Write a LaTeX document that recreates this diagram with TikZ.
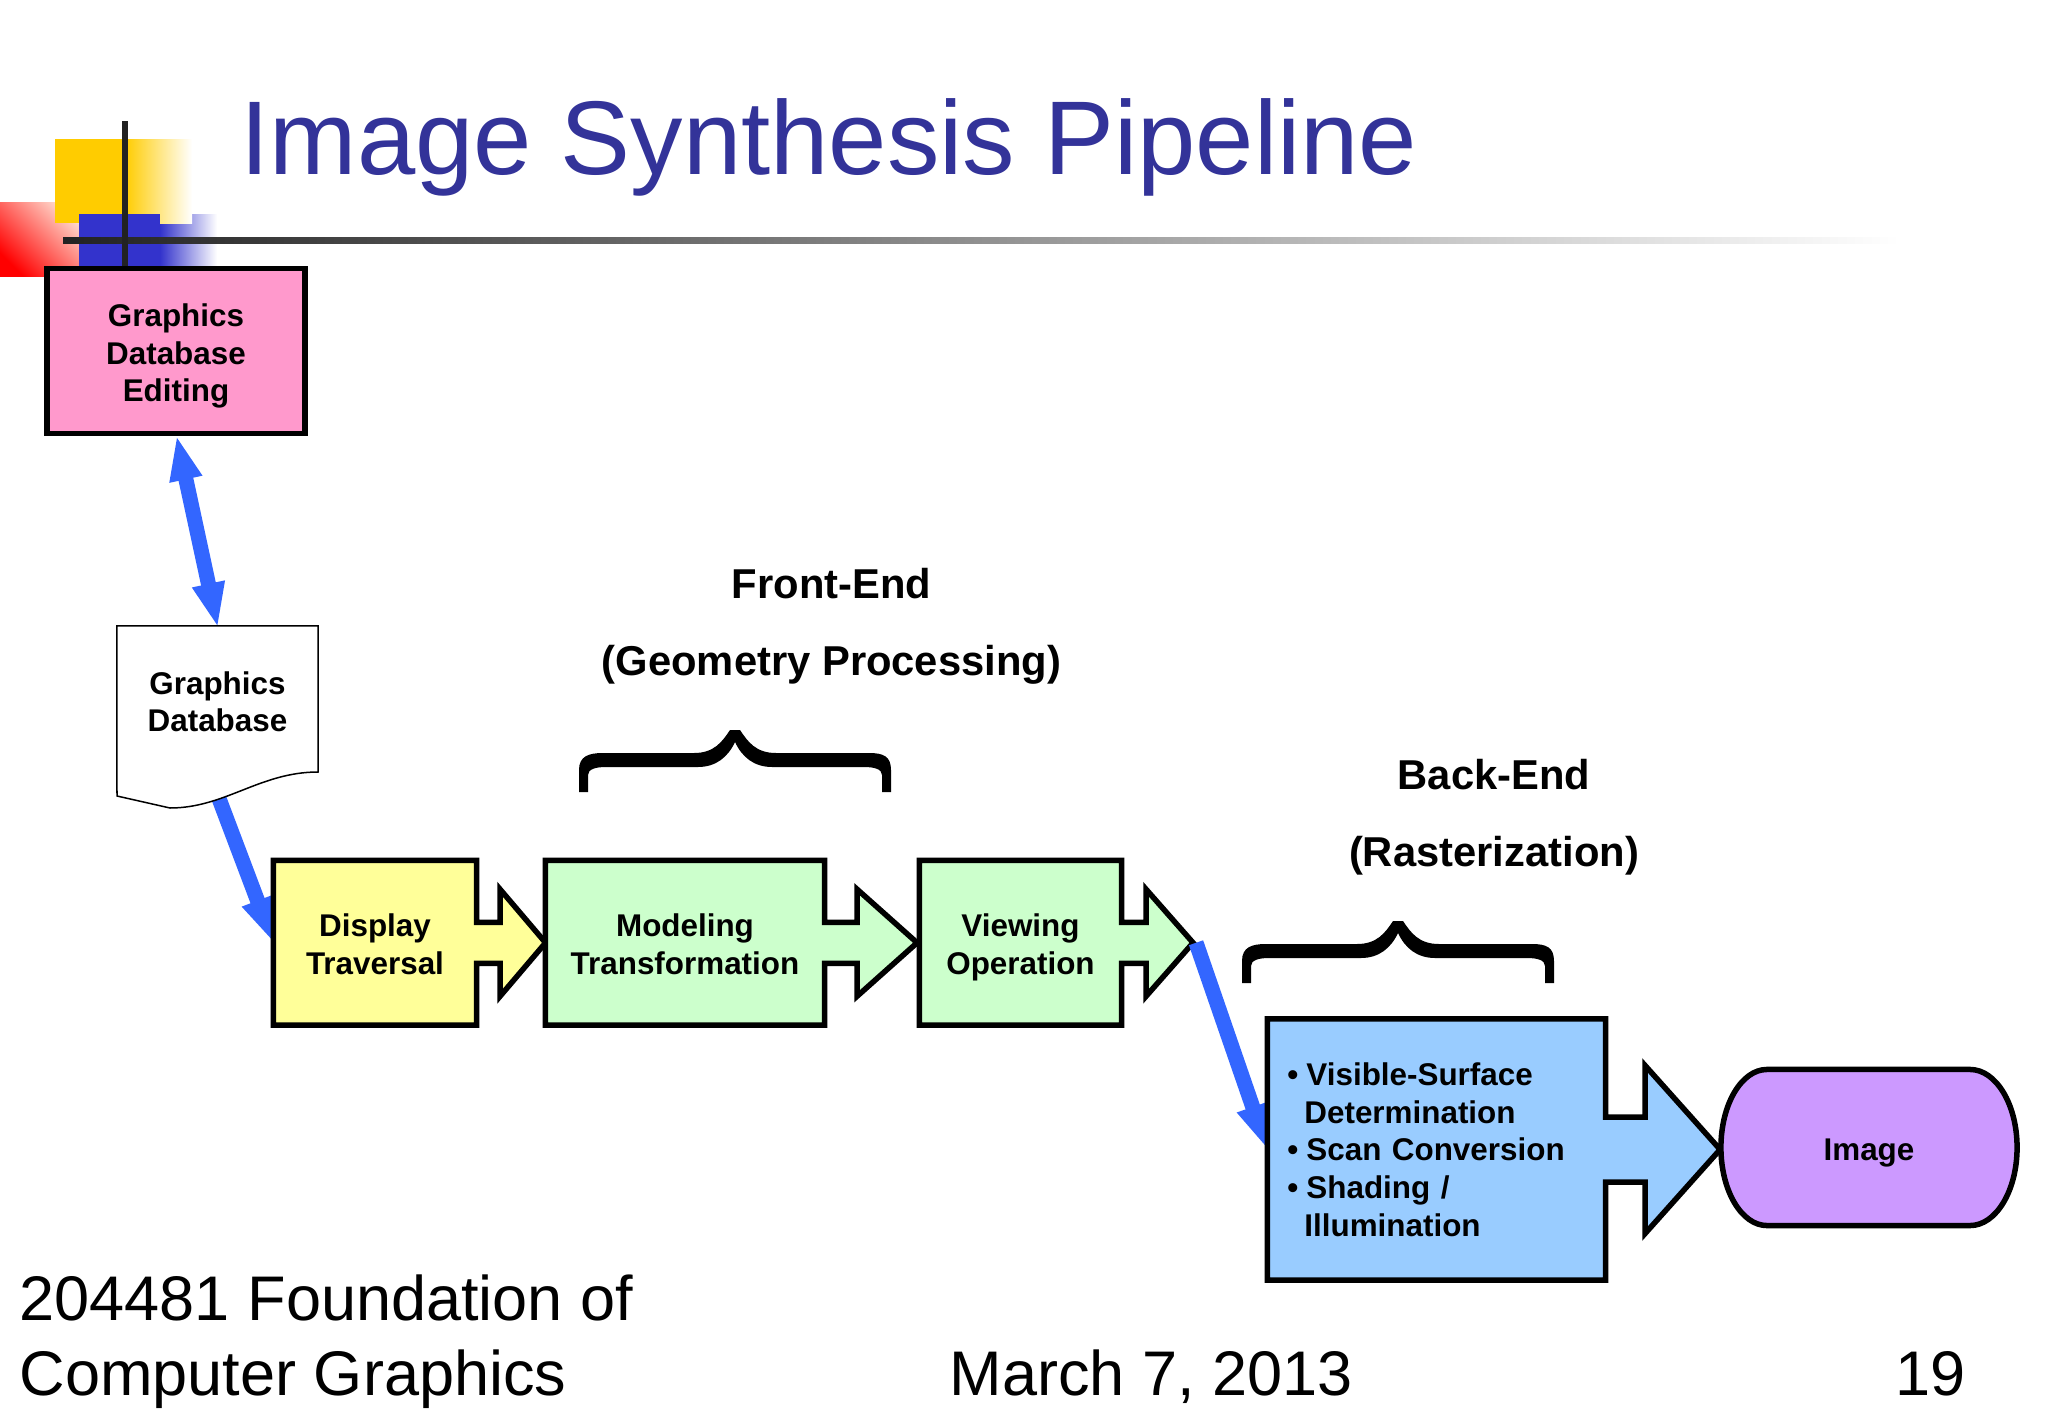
\documentclass[tikz,border=0pt]{standalone}
\usepackage{fontspec}
\setmainfont{Liberation Sans}
\usetikzlibrary{arrows.meta,calc,backgrounds}
\definecolor{titleblue}{HTML}{333399}
\definecolor{flowblue}{HTML}{3366FF}
\definecolor{logoyellow}{HTML}{FFCC00}
\definecolor{logoblue}{HTML}{3333CC}
\definecolor{logored}{HTML}{FF0000}
\definecolor{logosalmon}{HTML}{FFD8CC}
\definecolor{rulegray}{HTML}{222222}
\definecolor{editfill}{HTML}{FF99CC}
\definecolor{displayfill}{HTML}{FFFF99}
\definecolor{frontfill}{HTML}{CCFFCC}
\definecolor{backfill}{HTML}{99CCFF}
\definecolor{imagefill}{HTML}{CC99FF}
% box with a block arrow: node, fill, notch, tip, neck, head
\newcommand{\boxarrow}[6]{
  \draw[outline,fill=#2] (#1.north west) -- (#1.north east)
    -- ($(#1.east)+(0,-#5)$) -- ++(#3,0) -- ++(0,#5-#6)
    -- ($(#1.east)+(#3+#4,0)$) coordinate (#1tip)
    -- ($(#1.east)+(#3,#6)$) -- ++(0,#5-#6)
    -- ($(#1.east)+(0,#5)$) -- (#1.south east) -- (#1.south west) -- cycle;
}
\newcommand{\bulletitem}[1]{\makebox[0.19cm][l]{\textbullet}#1}
\newcommand{\firstline}{\rule{0pt}{0.26cm}}
\begin{document}
\begin{tikzpicture}[%
    x=0.01cm,
    y=-0.01cm,
    outline/.style={
      draw=black,
      line width=0.055cm,
      miter limit=10
    },
    stagebox/.style={
      rectangle,
      align=center,
      inner sep=0pt,
      outer sep=0pt,
      text depth=0pt,
      font=\fontsize{8.93}{10.78}\selectfont\bfseries,
      minimum width=2.03cm,
      minimum height=1.645cm
    },
    bracelabel/.style={
      align=center,
      inner sep=0pt,
      anchor=base,
      font=\fontsize{11.87}{11.87}\selectfont\bfseries
    },
    footer/.style={
      inner sep=0pt,
      anchor=base west,
      font=\fontsize{17.93}{21.3}\selectfont
    },
    flow/.style={
      draw=flowblue,
      line width=0.15cm
    },
    flowtip/.tip={Triangle[length=0.45cm,width=0.30cm]},
    curlybrace/.pic={
      \fill[black] (0,0) -- (0,-22) .. controls (0,-36) and (10,-39) .. (24,-39)
        -- (115,-39) .. controls (135,-39) and (143,-50) .. (151,-62)
        -- (161,-62) .. controls (169,-50) and (177,-39) .. (197,-39)
        -- (290,-39) .. controls (304,-39) and (312,-36) .. (312,-22)
        -- (312,0) -- (303,0) -- (303,-17) .. controls (303,-23) and (295,-25) .. (285,-25)
        -- (193,-25) .. controls (175,-25) and (163,-35) .. (156,-50)
        .. controls (149,-35) and (137,-25) .. (119,-25)
        -- (27,-25) .. controls (17,-25) and (9,-23) .. (9,-17) -- (9,0) -- cycle;
    }
  ]
    \useasboundingbox (0,0) rectangle (2048,1418);

    \node[inner sep=0pt,anchor=base west,text=titleblue,font=\fontsize{29.8}{32}\selectfont] (title) at (240,174) {Image Synthesis Pipeline};

    \node[stagebox,outline,fill=editfill,minimum width=2.58cm,minimum height=1.645cm] (edit) at (176,351) {\firstline Graphics\\Database\\Editing};
    \node[stagebox,minimum width=2.01cm,minimum height=1.48cm] (database) at (217.5,700) {\firstline Graphics\\Database};
    \coordinate (databaseout) at (212,780);

    \node[stagebox] (display) at (375,942.75) {\firstline Display\\Traversal};
    \node[stagebox,minimum width=2.79cm] (modeling) at (685,942.75) {\firstline Modeling\\Transformation};
    \node[stagebox,minimum width=2.02cm] (viewing) at (1020.5,942.75) {\firstline Viewing\\Operation};
    \node[stagebox,align=left,text depth=,minimum width=3.38cm,minimum height=2.61cm,text width=2.98cm,inner xsep=0.2cm,font=\fontsize{8.93}{10.72}\selectfont\bfseries] (backend) at (1436.5,1149.5) {\bulletitem{Visible-Surface}\\\hspace*{0.17cm}Determination\\\bulletitem{Scan Conversion}\\\bulletitem{Shading /}\\\hspace*{0.17cm}Illumination};
    \node[stagebox,minimum width=2.96cm,minimum height=1.56cm,text height=0.25cm] (image) at (1869,1147.5) {Image};

    \node[bracelabel] (frontname) at (831.5,598) {Front-End};
    \node[bracelabel] (frontsub) at (831.5,675) {(Geometry Processing)};
    \node[bracelabel] (backname) at (1494,789) {Back-End};
    \node[bracelabel] (backsub) at (1494,866) {(Rasterization)};

    \pic at (579,792) {curlybrace};
    \pic at (1242,983) {curlybrace};

    \node[footer,align=left] (course) at (19,1395) {204481 Foundation of\\Computer Graphics};
    \node[footer] (date) at (949,1395) {March 7, 2013};
    \node[footer] (page) at (1895,1395) {19};

    \begin{scope}[on background layer]
      \fill[white] (0,0) rectangle (2048,1418);
      \shade[top color=logosalmon,bottom color=logored,shading angle=-45] (0,202) rectangle (80,276);
      \shade[left color=logoblue,right color=white] (160,214) rectangle (217,276);
      \fill[logoyellow] (55,139) rectangle (125,223);
      \shade[left color=logoyellow,right color=white] (125,139) rectangle (192,223);
      \fill[logoblue] (79,214) rectangle (160,276);
      \shade[left color=rulegray,right color=white] (63,237) rectangle (1900,243);
      \fill[rulegray] (122,121) rectangle (128,268);

      \draw[flow,{flowtip}-{flowtip},shorten <=0.02cm,shorten >=-0.02cm] (edit.south) -- (database.north);
      \draw[flow,-{flowtip}] (databaseout) -- (display.west);

      \draw[draw=black,line width=0.015cm,fill=white] (database.north west) -- (database.north east) -- (318,772) .. controls (260,772) and (225,808) .. (170,808) -- (117,796) -- cycle;

      \boxarrow{display}{displayfill}{23.5}{45.5}{20.5}{53.5}
      \boxarrow{modeling}{frontfill}{32.5}{60}{20.5}{53.5}
      \boxarrow{viewing}{frontfill}{24.5}{47}{20.5}{53.5}
      \draw[flow,-{flowtip}] ([xshift=0.03cm]viewingtip) -- (backend.west);
      \boxarrow{backend}{backfill}{39.5}{75}{32.5}{84}
      \draw[outline,fill=imagefill] ([xshift=0.46cm]image.north west) -- ([xshift=-0.47cm]image.north east)
        arc[start angle=90,end angle=-90,x radius=0.47cm,y radius=0.78cm]
        -- ([xshift=0.46cm]image.south west)
        arc[start angle=-90,end angle=-270,x radius=0.46cm,y radius=0.78cm] -- cycle;
    \end{scope}
  \end{tikzpicture}
\end{document}
